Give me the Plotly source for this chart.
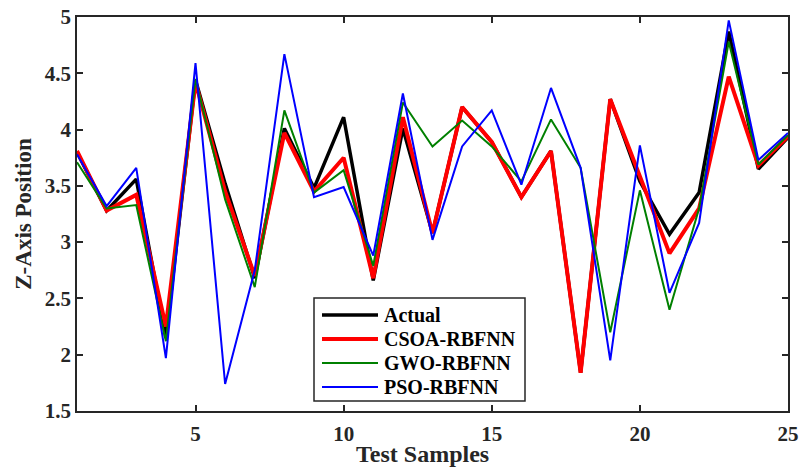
import plotly.graph_objects as go

samples = list(range(1, 26))
actual = [3.80, 3.28, 3.56, 2.15, 4.44, 3.52, 2.68, 4.01, 3.48, 4.11, 2.66, 4.01, 3.08, 4.20, 3.89, 3.40, 3.81, 1.84, 4.27, 3.54, 3.07, 3.44, 4.87, 3.65, 3.93]
csoa = [3.81, 3.28, 3.42, 2.25, 4.42, 3.45, 2.70, 3.97, 3.45, 3.75, 2.68, 4.11, 3.08, 4.20, 3.89, 3.40, 3.81, 1.84, 4.27, 3.58, 2.90, 3.30, 4.47, 3.68, 3.94]
gwo = [3.71, 3.30, 3.33, 2.12, 4.45, 3.38, 2.60, 4.17, 3.44, 3.64, 2.79, 4.24, 3.85, 4.08, 3.85, 3.54, 4.09, 3.66, 2.20, 3.46, 2.40, 3.30, 4.78, 3.69, 3.95]
pso = [3.78, 3.32, 3.66, 1.97, 4.59, 1.74, 2.75, 4.67, 3.40, 3.49, 2.88, 4.32, 3.02, 3.85, 4.17, 3.51, 4.37, 3.66, 1.95, 3.86, 2.55, 3.17, 4.97, 3.73, 3.97]
x_ticks = [5, 10, 15, 20, 25]
y_ticks = [1.5, 2, 2.5, 3, 3.5, 4, 4.5, 5]

series = [
    ("Actual", actual, "#000000", 3.5),
    ("CSOA-RBFNN", csoa, "#ff0000", 4),
    ("GWO-RBFNN", gwo, "#008000", 2),
    ("PSO-RBFNN", pso, "#0000ff", 2),
]

FONT = "Liberation Serif"
INK = "#262626"
W, H = 800, 470
ML, MR, MT, MB = 77, 12, 17, 59
PW, PH = W - ML - MR, H - MT - MB


def px_x(p):
    return (p - ML) / PW


def px_y(p):
    return (H - MB - p) / PH


fig = go.Figure()
for name, vals, col, w in series:
    fig.add_trace(go.Scatter(x=samples, y=vals, mode="lines", name=name,
                             line=dict(color=col, width=w), showlegend=False))

axis_common = dict(
    showline=True, linecolor=INK, linewidth=1.5, mirror="ticks",
    ticks="inside", ticklen=6, tickwidth=1.5, tickcolor=INK,
    showgrid=False, zeroline=False, automargin=False,
    tickfont=dict(family=FONT, size=21, color=INK, weight="bold"),
)

fig.update_xaxes(range=[1, 25], tickvals=x_ticks, ticklabelstandoff=3, **axis_common)
fig.update_yaxes(range=[1.5, 5], tickvals=y_ticks,
                 title=dict(text="Z-Axis Position", standoff=7,
                            font=dict(family=FONT, size=23, color=INK, weight="bold")),
                 **axis_common)

# x-axis title
fig.add_annotation(text="Test Samples", xref="paper", yref="paper",
                   x=px_x(422), y=px_y(469.5), xanchor="center", yanchor="bottom",
                   showarrow=False,
                   font=dict(family=FONT, size=24, color=INK, weight="bold"))

# legend box (drawn manually to match spacing)
fig.add_shape(type="rect", xref="paper", yref="paper",
              x0=px_x(314), x1=px_x(525), y0=px_y(401), y1=px_y(298),
              line=dict(color=INK, width=1.5), fillcolor="white", layer="above")
leg_y = [315, 339, 363, 387]
for (name, vals, col, w), yy in zip(series, leg_y):
    fig.add_shape(type="line", xref="paper", yref="paper",
                  x0=px_x(322), x1=px_x(378), y0=px_y(yy), y1=px_y(yy),
                  line=dict(color=col, width=w), layer="above")
    fig.add_annotation(text=name, xref="paper", yref="paper",
                       x=px_x(382), y=px_y(yy), xanchor="left", yanchor="middle",
                       showarrow=False,
                       font=dict(family=FONT, size=20, color="#000000", weight="bold"))

fig.update_layout(
    width=W, height=H,
    margin=dict(l=ML, r=MR, t=MT, b=MB),
    plot_bgcolor="white", paper_bgcolor="white",
    showlegend=False,
)

fig.write_html("out.html")
